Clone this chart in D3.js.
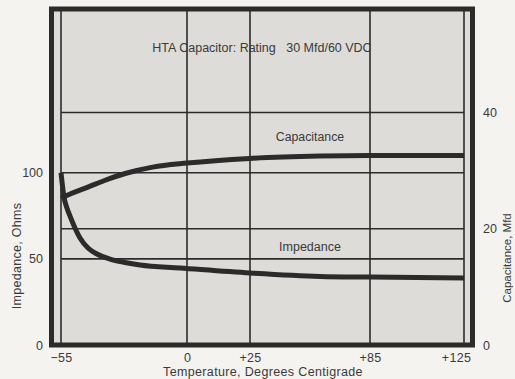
<!DOCTYPE html>
<html>
<head>
<meta charset="utf-8">
<script src="https://cdn.jsdelivr.net/npm/d3@7"></script>
<style>
  html, body { margin: 0; padding: 0; background: #f4f3ef; }
  svg { display: block; }
  text { font-family: "Liberation Sans", Arial, sans-serif; fill: #3a3a3a; }
</style>
</head>
<body>
<svg id="chart" width="515" height="379"></svg>
<script>
// Temperature gridlines (degrees C) and their labels
const tempTicks = [-55, 0, 25, 85, 125];
const tempLabels = ["\u221255", "0", "+25", "+85", "+125"];

// Left axis: impedance (ohms); right axis: capacitance (microfarads)
const impedanceTicks = [0, 50, 100];
const capacitanceTicks = [0, 20, 40];

// Impedance curve
const impTemp = [-55, -53.7, -52.4, -51.1, -48.9, -46.7, -43.2, -39.3, -33.6, -27.1, -20.5, -3, 25, 60, 85, 125];
const impOhms = [100, 85.9, 79.5, 74.9, 67.9, 62.1, 56.3, 52.8, 49.9, 47.9, 46.4, 44.7, 41.8, 39.8, 39.4, 38.9];

// Capacitance curve
const capTemp = [-55, -49, -43, -36, -27, -15, 0, 25, 60, 85, 125];
const capMfd = [25.3, 26.3, 27.2, 28.3, 29.5, 30.6, 31.3, 32.1, 32.5, 32.6, 32.6];

const svg = d3.select("#chart");
const ink = "#2b2b2b";

// Temperature axis is drawn with unequal spacing between gridlines
const x = d3.scaleLinear().domain(tempTicks).range([61, 187, 250, 370, 464]);
const yImp = d3.scaleLinear().domain([0, 195]).range([345, 9]);
const yCap = d3.scaleLinear().domain([0, 57.8]).range([345, 9]);

const frame = { left: 51.5, right: 472.5, top: 9, bottom: 345 };

// Plot background
svg.append("rect")
  .attr("x", frame.left).attr("y", frame.top)
  .attr("width", frame.right - frame.left).attr("height", frame.bottom - frame.top)
  .attr("fill", "#dddcd9");

// Vertical gridlines
svg.append("g").selectAll("line").data(tempTicks).join("line")
  .attr("x1", d => x(d)).attr("x2", d => x(d))
  .attr("y1", frame.top).attr("y2", frame.bottom)
  .attr("stroke", ink).attr("stroke-width", 1.6);

// Horizontal gridlines from both value axes
const hLines = impedanceTicks.filter(d => d > 0).map(d => yImp(d))
  .concat(capacitanceTicks.filter(d => d > 0).map(d => yCap(d)));
svg.append("g").selectAll("line").data(hLines).join("line")
  .attr("x1", x(-55)).attr("x2", x(125))
  .attr("y1", d => d).attr("y2", d => d)
  .attr("stroke", ink).attr("stroke-width", 1.6);

// Outer frame
svg.append("rect")
  .attr("x", frame.left).attr("y", frame.top)
  .attr("width", frame.right - frame.left).attr("height", frame.bottom - frame.top)
  .attr("fill", "none").attr("stroke", ink).attr("stroke-width", 5);

// Curves
const impLine = d3.line().x(d => x(d[0])).y(d => yImp(d[1])).curve(d3.curveMonotoneX);
const capLine = d3.line().x(d => x(d[0])).y(d => yCap(d[1])).curve(d3.curveMonotoneX);

svg.append("path")
  .datum(d3.zip(impTemp, impOhms))
  .attr("d", impLine)
  .attr("fill", "none").attr("stroke", ink).attr("stroke-width", 5)
  .attr("stroke-linecap", "butt").attr("stroke-linejoin", "round");

svg.append("path")
  .datum(d3.zip(capTemp, capMfd))
  .attr("d", capLine)
  .attr("fill", "none").attr("stroke", ink).attr("stroke-width", 5)
  .attr("stroke-linecap", "butt").attr("stroke-linejoin", "round");

const labelFont = "Liberation Sans, Arial, sans-serif";

// Bottom axis labels
const xAxis = d3.axisBottom(x).tickValues(tempTicks)
  .tickFormat((d, i) => tempLabels[i]).tickSize(0).tickPadding(0);
const gx = svg.append("g").attr("transform", `translate(0, ${frame.bottom + 8})`).call(xAxis);
gx.select(".domain").remove();
gx.selectAll("text").attr("font-size", 12.5).attr("fill", "#3a3a3a")
  .attr("font-family", labelFont).attr("letter-spacing", 0.3)
  .attr("dx", (d, i) => i === tempTicks.length - 1 ? -8 : 0);

// Left axis labels
const yAxisL = d3.axisLeft(yImp).tickValues(impedanceTicks).tickSize(0).tickPadding(0);
const gl = svg.append("g").attr("transform", "translate(43, 0)").call(yAxisL);
gl.select(".domain").remove();
gl.selectAll("text").attr("font-size", 12.5).attr("fill", "#3a3a3a")
  .attr("font-family", labelFont);

// Right axis labels
const yAxisR = d3.axisRight(yCap).tickValues(capacitanceTicks).tickSize(0).tickPadding(0);
const gr = svg.append("g").attr("transform", "translate(483, 0)").call(yAxisR);
gr.select(".domain").remove();
gr.selectAll("text").attr("font-size", 12.5).attr("fill", "#3a3a3a")
  .attr("font-family", labelFont);

// Titles and curve labels
svg.append("text").attr("x", 262).attr("y", 52).attr("text-anchor", "middle")
  .attr("font-size", 12.5).text("HTA Capacitor: Rating\u00a0\u00a0\u00a030 Mfd/60 VDC");
svg.append("text").attr("x", 310).attr("y", 141).attr("text-anchor", "middle")
  .attr("font-size", 12.3).text("Capacitance");
svg.append("text").attr("x", 310).attr("y", 251).attr("text-anchor", "middle")
  .attr("font-size", 12.5).text("Impedance");
svg.append("text").attr("x", 263).attr("y", 376).attr("text-anchor", "middle")
  .attr("font-size", 12.5).attr("letter-spacing", 0.35).text("Temperature, Degrees Centigrade");
svg.append("text").attr("transform", "translate(21, 256) rotate(-90)")
  .attr("text-anchor", "middle").attr("font-size", 12.5).attr("letter-spacing", 0.3)
  .text("Impedance, Ohms");
svg.append("text").attr("transform", "translate(511, 258) rotate(-90)")
  .attr("text-anchor", "middle").attr("font-size", 11.5).text("Capacitance, Mfd");
</script>
</body>
</html>
